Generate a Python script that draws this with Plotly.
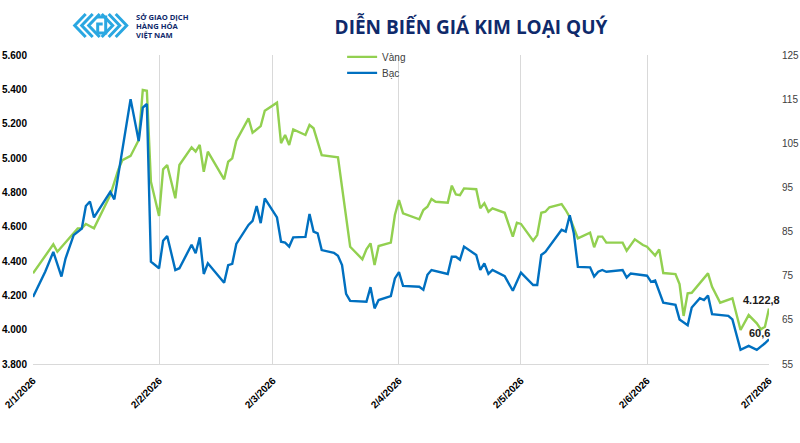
import plotly.graph_objects as go

# ---------------- data ----------------
gold_dates = [
    "2026-01-02", "2026-01-07", "2026-01-08", "2026-01-13", "2026-01-14", "2026-01-15", "2026-01-17",
    "2026-01-21", "2026-01-23", "2026-01-24", "2026-01-26", "2026-01-28", "2026-01-29", "2026-01-30",
    "2026-01-31", "2026-02-02", "2026-02-03", "2026-02-04", "2026-02-06", "2026-02-07", "2026-02-10",
    "2026-02-11", "2026-02-12", "2026-02-13", "2026-02-14", "2026-02-18", "2026-02-19", "2026-02-20",
    "2026-02-21", "2026-02-24", "2026-02-25", "2026-02-27", "2026-02-28", "2026-03-03", "2026-03-04",
    "2026-03-05", "2026-03-06", "2026-03-07", "2026-03-10", "2026-03-11", "2026-03-12", "2026-03-14",
    "2026-03-18", "2026-03-21", "2026-03-24", "2026-03-25", "2026-03-26", "2026-03-27", "2026-03-28",
    "2026-03-31", "2026-04-01", "2026-04-02", "2026-04-03", "2026-04-07", "2026-04-08", "2026-04-09",
    "2026-04-10", "2026-04-11", "2026-04-14", "2026-04-15", "2026-04-16", "2026-04-17", "2026-04-18",
    "2026-04-21", "2026-04-22", "2026-04-23", "2026-04-24", "2026-04-25", "2026-04-28", "2026-04-30",
    "2026-05-01", "2026-05-02", "2026-05-05", "2026-05-06", "2026-05-07", "2026-05-08", "2026-05-09",
    "2026-05-12", "2026-05-13", "2026-05-14", "2026-05-16", "2026-05-19", "2026-05-20", "2026-05-21",
    "2026-05-22", "2026-05-23", "2026-05-27", "2026-05-28", "2026-05-30", "2026-06-01", "2026-06-02",
    "2026-06-04", "2026-06-05", "2026-06-06", "2026-06-09", "2026-06-10", "2026-06-11", "2026-06-12",
    "2026-06-13", "2026-06-17", "2026-06-18", "2026-06-20", "2026-06-23", "2026-06-25", "2026-06-27",
    "2026-06-29", "2026-06-30", "2026-07-01", "2026-07-02",
]
gold_values = [
    4328, 4497, 4454, 4590, 4590, 4616, 4590,
    4784, 4934, 4988, 5012, 5105, 5396, 5392,
    4862, 4662, 4934, 4959, 4765, 4959, 5062,
    5037, 5076, 4920, 5037, 4876, 4978, 4998,
    5101, 5231, 5147, 5186, 5275, 5322, 5086,
    5134, 5076, 5167, 5134, 5192, 5173, 5017,
    5004, 4483, 4410, 4468, 4503, 4377, 4487,
    4507, 4668, 4755, 4678, 4643, 4697, 4716,
    4761, 4745, 4740, 4839, 4788, 4784, 4823,
    4818, 4707, 4736, 4687, 4707, 4681, 4542,
    4623, 4616, 4518, 4551, 4681, 4687, 4713,
    4732, 4697, 4655, 4532, 4565, 4480, 4542,
    4542, 4507, 4507, 4460, 4526, 4493, 4483,
    4432, 4468, 4330, 4324, 4266, 4080, 4212,
    4215, 4328, 4250, 4157, 4183, 3998, 4085,
    4037, 4002, 4017, 4122.8,
]

silver_dates = [
    "2026-01-02", "2026-01-05", "2026-01-07", "2026-01-09", "2026-01-10", "2026-01-12", "2026-01-14",
    "2026-01-15", "2026-01-16", "2026-01-17", "2026-01-21", "2026-01-22", "2026-01-26", "2026-01-28",
    "2026-01-29", "2026-01-30", "2026-01-31", "2026-02-02", "2026-02-03", "2026-02-04", "2026-02-06",
    "2026-02-07", "2026-02-10", "2026-02-11", "2026-02-12", "2026-02-13", "2026-02-14", "2026-02-18",
    "2026-02-19", "2026-02-20", "2026-02-21", "2026-02-24", "2026-02-25", "2026-02-26", "2026-02-27",
    "2026-02-28", "2026-03-03", "2026-03-04", "2026-03-05", "2026-03-06", "2026-03-07", "2026-03-10",
    "2026-03-11", "2026-03-12", "2026-03-13", "2026-03-14", "2026-03-17", "2026-03-18", "2026-03-19",
    "2026-03-20", "2026-03-21", "2026-03-25", "2026-03-26", "2026-03-27", "2026-03-28", "2026-03-31",
    "2026-04-01", "2026-04-02", "2026-04-03", "2026-04-07", "2026-04-08", "2026-04-09", "2026-04-10",
    "2026-04-14", "2026-04-15", "2026-04-16", "2026-04-17", "2026-04-18", "2026-04-21", "2026-04-22",
    "2026-04-23", "2026-04-24", "2026-04-25", "2026-04-28", "2026-04-30", "2026-05-02", "2026-05-05",
    "2026-05-06", "2026-05-07", "2026-05-08", "2026-05-12", "2026-05-13", "2026-05-14", "2026-05-15",
    "2026-05-16", "2026-05-19", "2026-05-20", "2026-05-21", "2026-05-22", "2026-05-23", "2026-05-27",
    "2026-05-28", "2026-05-29", "2026-06-02", "2026-06-03", "2026-06-04", "2026-06-06", "2026-06-09",
    "2026-06-10", "2026-06-12", "2026-06-13", "2026-06-15", "2026-06-16", "2026-06-17", "2026-06-18",
    "2026-06-22", "2026-06-23", "2026-06-25", "2026-06-27", "2026-06-29", "2026-07-01", "2026-07-02",
]
silver_values = [
    70.2, 75.9, 80.4, 74.8, 78.9, 84.2, 85.7,
    90.8, 91.8, 88.2, 94.0, 92.3, 115.0, 105.5,
    113.1, 113.9, 78.2, 76.7, 82.9, 84.0, 76.3,
    76.7, 82.0, 80.1, 83.7, 75.4, 77.8, 73.4,
    77.4, 77.7, 82.2, 86.5, 87.4, 90.8, 86.9,
    92.5, 88.2, 82.7, 82.5, 81.6, 83.7, 83.8,
    89.0, 85.0, 84.6, 80.8, 80.2, 79.5, 77.4,
    70.9, 69.3, 69.1, 72.4, 67.6, 69.5, 70.4,
    74.4, 75.8, 72.7, 72.5, 71.8, 75.2, 76.3,
    75.4, 79.3, 79.3, 78.6, 81.6, 79.7, 76.3,
    77.8, 75.4, 76.3, 74.9, 71.6, 75.7, 72.9,
    72.9, 79.7, 80.4, 85.4, 85.0, 88.7, 84.6,
    77.0, 76.9, 74.8, 75.9, 76.3, 75.9, 76.3,
    74.6, 75.5, 75.0, 73.6, 73.9, 68.9, 68.4,
    65.1, 63.8, 67.8, 69.9, 69.5, 70.5, 66.3,
    65.9, 65.1, 58.2, 59.1, 58.2, 59.7, 60.6,
]

x_tick_dates = ["2026-01-02", "2026-02-02", "2026-03-02", "2026-04-02",
                "2026-05-02", "2026-06-02", "2026-07-02"]
x_tick_labels = ["2/1/2026", "2/2/2026", "2/3/2026", "2/4/2026",
                 "2/5/2026", "2/6/2026", "2/7/2026"]
gold_ticks = [3800, 4000, 4200, 4400, 4600, 4800, 5000, 5200, 5400, 5600]
silver_ticks = [55, 65, 75, 85, 95, 105, 115, 125]

series_names = ["Vàng", "Bạc"]
title_text = "DIỄN BIẾN GIÁ KIM LOẠI QUÝ"
logo_lines = ["SỞ GIAO DỊCH", "HÀNG HÓA", "VIỆT NAM"]

# ---------------- style ----------------
GREEN = "#92d050"
BLUE = "#0070c0"
NAVY = "#0f2a6b"
LOGO_BLUE = "#2aa7e1"
GRID = "#d9d9d9"
FONT = "Liberation Sans, Arial, sans-serif"

W, H = 800, 443
L, R, T, B = 33.3, 30.7, 55, 79


def vn_number(v, decimals):
    s = f"{v:,.{decimals}f}"
    return s.replace(",", "_").replace(".", ",").replace("_", ".")


fig = go.Figure()
fig.add_trace(go.Scatter(x=gold_dates, y=gold_values, name=series_names[0], mode="lines",
                         line=dict(color=GREEN, width=2.4), yaxis="y", legend="legend"))
fig.add_trace(go.Scatter(x=silver_dates, y=silver_values, name=series_names[1], mode="lines",
                         line=dict(color=BLUE, width=2.4), yaxis="y2", legend="legend2"))

annotations = [
    dict(x=gold_dates[-1], y=gold_values[-1], xref="x", yref="y",
         text="<b>" + vn_number(gold_values[-1], 1) + "</b>", showarrow=False,
         xanchor="center", yanchor="middle", xshift=-8, yshift=9,
         font=dict(family=FONT, size=11, color="#1a1a1a")),
    dict(x=silver_dates[-1], y=silver_values[-1], xref="x", yref="y2",
         text="<b>" + vn_number(silver_values[-1], 1) + "</b>", showarrow=False,
         xanchor="center", yanchor="middle", xshift=-10, yshift=6,
         font=dict(family=FONT, size=11, color="#1a1a1a")),
]

# logo text (positions in pixels relative to plot top-left)
for i, line in enumerate(logo_lines):
    annotations.append(dict(
        x=0, y=1, xref="paper", yref="paper", xanchor="left", yanchor="middle",
        xshift=134 - L, yshift=T - (17 + 8.8 * i), showarrow=False,
        text="<b>" + line + "</b>",
        font=dict(family="Open Sans, sans-serif", size=7.6, color=NAVY)))

# logo chevrons (pixel paths relative to plot top-left; y up)
def pxpath(points):
    return "M " + " L ".join(f"{px - L:.1f},{T - py:.1f}" for px, py in points)

logo_paths = []
for dx in (0, 7, 14):
    logo_paths.append([(86 + dx, 14), (75 + dx, 25.5), (86 + dx, 37)])
for dx in (0, 7, 14):
    logo_paths.append([(116 - dx, 14), (127 - dx, 25.5), (116 - dx, 37)])
logo_paths.append([(97, 17), (106, 17), (106, 33), (98, 33), (98, 24), (103, 24)])
shapes = []
for p in logo_paths:
    shapes.append(dict(type="path", xref="paper", yref="paper", xsizemode="pixel", ysizemode="pixel",
                       xanchor=0, yanchor=1, path=pxpath(p),
                       line=dict(color=LOGO_BLUE, width=3)))

legend_style = dict(xanchor="left", yanchor="top", bgcolor="rgba(0,0,0,0)",
                    font=dict(family=FONT, size=10, color="#404040"), itemwidth=30)

fig.update_layout(
    width=W, height=H,
    margin=dict(l=L, r=R, t=T, b=B, pad=0, autoexpand=False),
    paper_bgcolor="white", plot_bgcolor="white",
    separators=",.",
    title=dict(text="<b>" + title_text + "</b>", x=471 / W, xanchor="center",
               y=1 - 27 / H, yanchor="middle",
               font=dict(family="Open Sans, sans-serif", size=19, color=NAVY)),
    showlegend=True,
    legend=dict(x=0.42, y=1.041, **legend_style),
    legend2=dict(x=0.42, y=0.989, **legend_style),
    xaxis=dict(type="date", range=[x_tick_dates[0], x_tick_dates[-1]],
               tickvals=x_tick_dates, ticktext=x_tick_labels, tickangle=-45,
               showgrid=True, gridcolor=GRID, gridwidth=1,
               showline=True, linecolor=GRID, linewidth=1, ticks="",
               ticklabelstandoff=6, automargin=False,
               tickfont=dict(family=FONT, size=10, color="#000000", weight="bold"),
               zeroline=False),
    yaxis=dict(range=[3800, 5600], tickvals=gold_ticks, tickformat=",d",
               showgrid=False, zeroline=False, showline=False, ticks="",
               ticklabelstandoff=5, automargin=False,
               tickfont=dict(family=FONT, size=10, color="#000000", weight="bold")),
    yaxis2=dict(range=[55, 125], tickvals=silver_ticks, overlaying="y", side="right",
                showgrid=False, zeroline=False, showline=False, ticks="",
                ticklabelstandoff=12, automargin=False,
                tickfont=dict(family=FONT, size=10, color="#404040")),
    annotations=annotations,
    shapes=shapes,
)

fig.write_html("out.html")
